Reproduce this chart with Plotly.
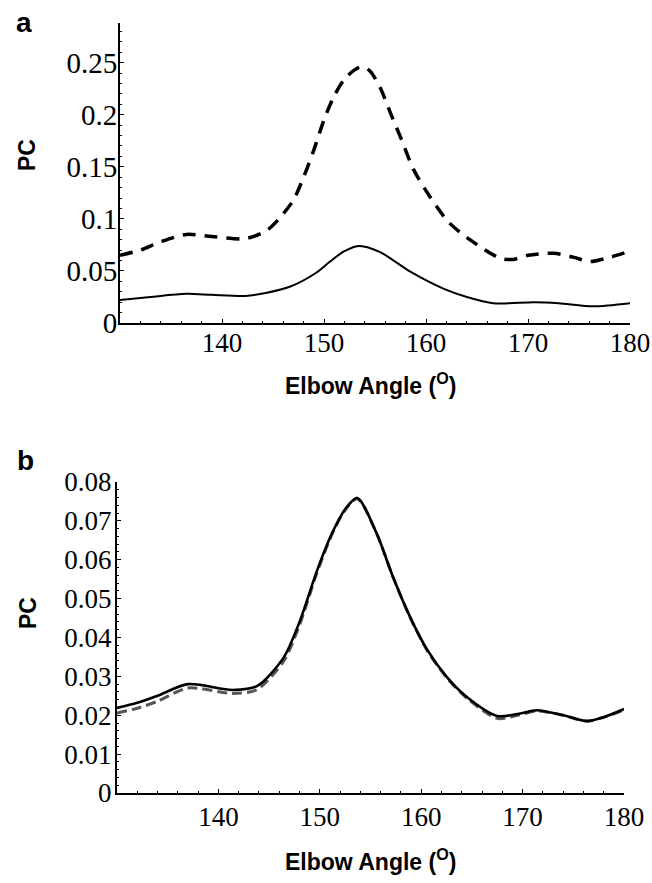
import plotly.graph_objects as go

W, H = 652, 883

# ---- Panel a data ----
a_dash_x = [130, 132, 134, 136.5, 139, 142.3, 144.4, 145.5, 147, 148, 149, 150, 151, 152, 153, 153.7,
            154.5, 155.5, 156.5, 157.6, 158.8, 160.4, 162.2, 164.3, 167.3, 168.5, 170, 172.5, 174.5, 176.1, 178, 180]
a_dash_y = [0.065, 0.070, 0.078, 0.085, 0.083, 0.081, 0.089, 0.099, 0.118, 0.140, 0.166, 0.195, 0.218, 0.234, 0.243, 0.246,
            0.242, 0.226, 0.202, 0.176, 0.147, 0.121, 0.097, 0.080, 0.062, 0.061, 0.065, 0.067, 0.063, 0.059, 0.063, 0.069]

a_solid_x = [130, 133, 136.5, 139, 142.3, 144.4, 146.7, 149.2, 150.6, 152, 153.5, 155.5, 158.5, 161.7, 164,
             166.6, 170.6, 173, 176.4, 180]
a_solid_y = [0.022, 0.025, 0.028, 0.027, 0.026, 0.029, 0.035, 0.048, 0.059, 0.069, 0.074, 0.068, 0.049, 0.033, 0.025,
             0.019, 0.020, 0.019, 0.016, 0.019]

# ---- Panel b data ----
b_solid_x = [130, 132, 134, 137, 141.4, 143.8, 146.4, 148, 149.7, 151.2, 152.5, 153.7, 155.6, 157.2, 158.9,
             160.6, 162.6, 164.5, 167.5, 169.5, 171.4, 174, 176.3, 178, 180]
b_solid_y = [0.0219, 0.0232, 0.0250, 0.0280, 0.0265, 0.0275, 0.0347, 0.0440, 0.0570, 0.0668, 0.0730, 0.0759,
             0.0668, 0.0557, 0.0453, 0.0368, 0.0296, 0.0247, 0.0198, 0.0203, 0.0213, 0.0200, 0.0185, 0.0195, 0.0216]

b_dash_x = [130, 132, 134, 137, 141.4, 143.8, 146.4, 148, 149.7, 151.2, 152.5, 153.7, 155.6, 157.2, 158.9,
            160.6, 162.6, 164.5, 167.5, 169.5, 171.4, 174, 176.3, 178, 180]
b_dash_y = [0.0206, 0.0218, 0.0236, 0.0270, 0.0256, 0.0266, 0.0338, 0.0432, 0.0565, 0.0665, 0.0728, 0.0757,
            0.0668, 0.0557, 0.0452, 0.0366, 0.0294, 0.0244, 0.0192, 0.0200, 0.0211, 0.0200, 0.0185, 0.0195, 0.0214]

x_tickvals = [140, 150, 160, 170, 180]
x_ticktext = ["140", "150", "160", "170", "180"]
a_y_tickvals = [0, 0.05, 0.1, 0.15, 0.2, 0.25]
a_y_ticktext = ["0", "0.05", "0.1", "0.15", "0.2", "0.25"]
b_y_tickvals = [0, 0.01, 0.02, 0.03, 0.04, 0.05, 0.06, 0.07, 0.08]
b_y_ticktext = ["0", "0.01", "0.02", "0.03", "0.04", "0.05", "0.06", "0.07", "0.08"]

fig = go.Figure()
fig.add_trace(go.Scatter(x=a_dash_x, y=a_dash_y, mode="lines", line=dict(color="black", width=3.5, dash="13px,9px", shape="spline", smoothing=0.8), xaxis="x", yaxis="y"))
fig.add_trace(go.Scatter(x=a_solid_x, y=a_solid_y, mode="lines", line=dict(color="black", width=2, shape="spline", smoothing=0.8), xaxis="x", yaxis="y"))
fig.add_trace(go.Scatter(x=b_dash_x, y=b_dash_y, mode="lines", line=dict(color="#555", width=3, dash="10px,5px", shape="spline", smoothing=0.8), xaxis="x2", yaxis="y2"))
fig.add_trace(go.Scatter(x=b_solid_x, y=b_solid_y, mode="lines", line=dict(color="black", width=2.6, shape="spline", smoothing=0.8), xaxis="x2", yaxis="y2"))

common = dict(showgrid=False, zeroline=False, showline=True, linecolor="black", linewidth=2,
              ticks="inside", ticklen=4, tickwidth=1.2, tickcolor="black",
              automargin=False, ticklabeloverflow="allow")

def px_dom_x(x0, x1):
    return [x0 / W, x1 / W]

def px_dom_y(top, bottom):
    return [1 - bottom / H, 1 - top / H]

minor_x = dict(ticks="inside", ticklen=2, dtick=2, tick0=130, tickcolor="black", tickwidth=1)
font_x = dict(family="Liberation Serif", size=27, color="black")
font_ya = dict(family="Liberation Serif", size=29, color="black")
font_yb = dict(family="Liberation Serif", size=27, color="black")

fig.update_layout(
    width=W, height=H, showlegend=False,
    paper_bgcolor="white", plot_bgcolor="white",
    margin=dict(l=0, r=0, t=0, b=0, autoexpand=False),
    xaxis=dict(domain=px_dom_x(120, 630), range=[130, 180], anchor="y",
               tickvals=x_tickvals, ticktext=x_ticktext, ticklabelstandoff=-5, tickfont=font_x,
               minor=minor_x, **common),
    yaxis=dict(domain=px_dom_y(23, 323), range=[0, 0.288], anchor="x",
               tickvals=a_y_tickvals, ticktext=a_y_ticktext, ticklabelstandoff=-5, tickfont=font_ya,
               minor=dict(ticks="inside", ticklen=2, dtick=0.01, tick0=0, tickcolor="black", tickwidth=1), **common),
    xaxis2=dict(domain=px_dom_x(117, 624), range=[130, 180], anchor="y2",
                tickvals=x_tickvals, ticktext=x_ticktext, ticklabelstandoff=-1, tickfont=font_x,
                minor=minor_x, **common),
    yaxis2=dict(domain=px_dom_y(482, 793), range=[0, 0.08], anchor="x2",
                tickvals=b_y_tickvals, ticktext=b_y_ticktext, ticklabelstandoff=-2, tickfont=font_yb,
                minor=dict(ticks="inside", ticklen=2, dtick=0.002, tick0=0, tickcolor="black", tickwidth=1), **common),
)

title_font = dict(family="Liberation Sans", size=23, color="black")
panel_font = dict(family="Liberation Sans", size=28, color="black")

def ann(text, xpx, ypx, font, angle=0):
    fig.add_annotation(text=text, x=xpx / W, y=1 - ypx / H, xref="paper", yref="paper",
                       showarrow=False, font=font, textangle=angle, xanchor="center", yanchor="middle")

ann("<b>a</b>", 24, 22, panel_font)
ann("<b>b</b>", 25, 460, panel_font)
ann("<b>PC</b>", 27, 155, title_font, angle=-90)
ann("<b>PC</b>", 28, 613, title_font, angle=-90)
ann("<b>Elbow Angle (<sup>O</sup>)</b>", 370, 384, title_font)
ann("<b>Elbow Angle (<sup>O</sup>)</b>", 370, 860, title_font)

fig.write_html("out.html", config={"displayModeBar": False},
               post_script="document.body.style.margin='0';document.body.style.overflow='hidden';")
